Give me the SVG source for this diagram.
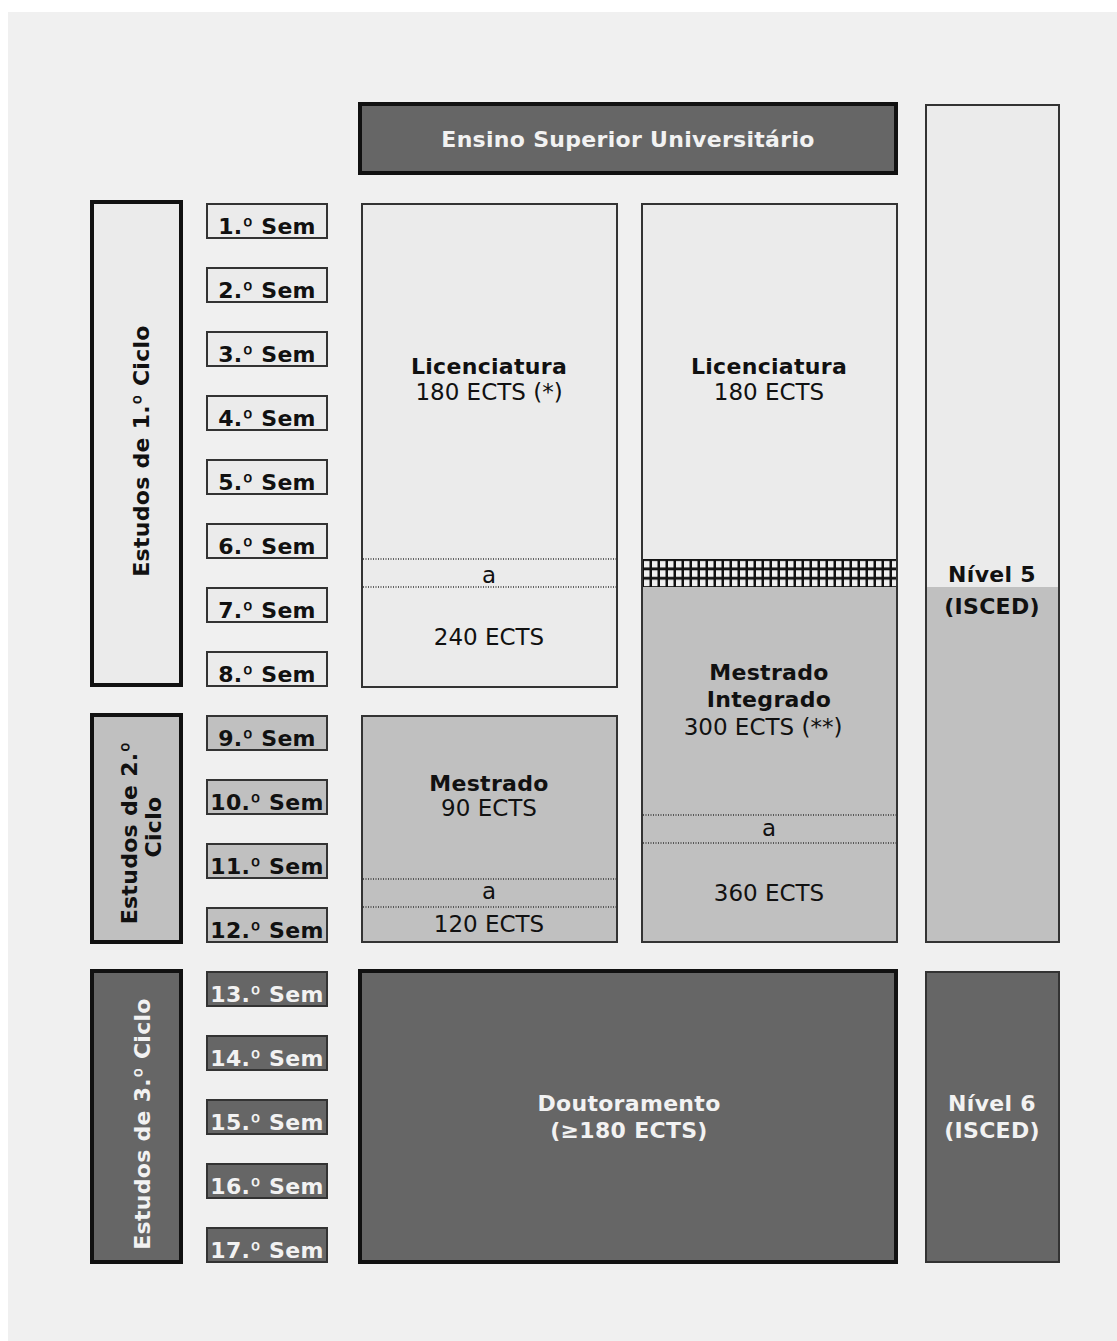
<svg xmlns="http://www.w3.org/2000/svg" width="1117" height="1341" viewBox="0 0 1117 1341">
  <style>
    .b { font-family: "DejaVu Sans", Verdana, sans-serif; font-weight: bold; font-size: 22px; letter-spacing: 0.3px; text-anchor: middle; fill: #111; }
    .r { font-family: "DejaVu Sans", Verdana, sans-serif; font-size: 23px; text-anchor: middle; fill: #111; }
    .o { font-family: Inter, "DejaVu Sans", sans-serif; font-weight: bold; }
    .w { fill: #f2f2f2; }
    .light { fill: #ebebeb; }
    .mid { fill: #c0c0c0; }
    .dark { fill: #666666; }
    .thick { stroke: #111; stroke-width: 4; }
    .thin { stroke: #333; stroke-width: 2; }
    .dot { stroke: #333; stroke-width: 1.5; stroke-dasharray: 1 1.5; }
  </style>
  <defs>
    <pattern id="grid" x="642" y="559" width="8" height="9.33" patternUnits="userSpaceOnUse">
      <rect width="8" height="9.33" fill="#111"/>
      <rect x="2" y="2" width="5.5" height="6.5" fill="#f0f0f0"/>
    </pattern>
  </defs>

  <rect x="0" y="0" width="1117" height="1341" fill="#ffffff"/>
  <rect x="8" y="12" width="1109" height="1329" fill="#f0f0f0"/>

  <g id="header">
    <rect x="360" y="104" width="536" height="69" class="dark thick"/>
    <text x="628" y="147" class="b w">Ensino Superior Universitário</text>
  </g>

  <g id="ciclo1">
    <rect x="92" y="202" width="89" height="483" class="light thick"/>
    <text class="b" transform="translate(149,451) rotate(-90)">Estudos de 1.<tspan class="o">º</tspan> Ciclo</text>
  </g>
  <g id="ciclo2">
    <rect x="92" y="715" width="89" height="227" class="mid thick"/>
    <text class="b" transform="translate(137,833) rotate(-90)">Estudos de 2.<tspan class="o">º</tspan></text>
    <text class="b" transform="translate(161,827) rotate(-90)">Ciclo</text>
  </g>
  <g id="ciclo3">
    <rect x="92" y="971" width="89" height="291" class="dark thick"/>
    <text class="b w" transform="translate(150,1124) rotate(-90)">Estudos de 3.<tspan class="o">º</tspan> Ciclo</text>
  </g>

  <g id="sem1"><rect x="207" y="204" width="120" height="34" class="light thin"/><text x="267" y="234" class="b">1.<tspan class="o">º</tspan> Sem</text></g>
  <g id="sem2"><rect x="207" y="268" width="120" height="34" class="light thin"/><text x="267" y="298" class="b">2.<tspan class="o">º</tspan> Sem</text></g>
  <g id="sem3"><rect x="207" y="332" width="120" height="34" class="light thin"/><text x="267" y="362" class="b">3.<tspan class="o">º</tspan> Sem</text></g>
  <g id="sem4"><rect x="207" y="396" width="120" height="34" class="light thin"/><text x="267" y="426" class="b">4.<tspan class="o">º</tspan> Sem</text></g>
  <g id="sem5"><rect x="207" y="460" width="120" height="34" class="light thin"/><text x="267" y="490" class="b">5.<tspan class="o">º</tspan> Sem</text></g>
  <g id="sem6"><rect x="207" y="524" width="120" height="34" class="light thin"/><text x="267" y="554" class="b">6.<tspan class="o">º</tspan> Sem</text></g>
  <g id="sem7"><rect x="207" y="588" width="120" height="34" class="light thin"/><text x="267" y="618" class="b">7.<tspan class="o">º</tspan> Sem</text></g>
  <g id="sem8"><rect x="207" y="652" width="120" height="34" class="light thin"/><text x="267" y="682" class="b">8.<tspan class="o">º</tspan> Sem</text></g>
  <g id="sem9"><rect x="207" y="716" width="120" height="34" class="mid thin"/><text x="267" y="746" class="b">9.<tspan class="o">º</tspan> Sem</text></g>
  <g id="sem10"><rect x="207" y="780" width="120" height="34" class="mid thin"/><text x="267" y="810" class="b">10.<tspan class="o">º</tspan> Sem</text></g>
  <g id="sem11"><rect x="207" y="844" width="120" height="34" class="mid thin"/><text x="267" y="874" class="b">11.<tspan class="o">º</tspan> Sem</text></g>
  <g id="sem12"><rect x="207" y="908" width="120" height="34" class="mid thin"/><text x="267" y="938" class="b">12.<tspan class="o">º</tspan> Sem</text></g>
  <g id="sem13"><rect x="207" y="972" width="120" height="34" class="dark thin"/><text x="267" y="1002" class="b w">13.<tspan class="o">º</tspan> Sem</text></g>
  <g id="sem14"><rect x="207" y="1036" width="120" height="34" class="dark thin"/><text x="267" y="1066" class="b w">14.<tspan class="o">º</tspan> Sem</text></g>
  <g id="sem15"><rect x="207" y="1100" width="120" height="34" class="dark thin"/><text x="267" y="1130" class="b w">15.<tspan class="o">º</tspan> Sem</text></g>
  <g id="sem16"><rect x="207" y="1164" width="120" height="34" class="dark thin"/><text x="267" y="1194" class="b w">16.<tspan class="o">º</tspan> Sem</text></g>
  <g id="sem17"><rect x="207" y="1228" width="120" height="34" class="dark thin"/><text x="267" y="1258" class="b w">17.<tspan class="o">º</tspan> Sem</text></g>

  <g id="licenciatura1">
    <rect x="362" y="204" width="255" height="483" class="light thin"/>
    <line x1="363" y1="559" x2="616" y2="559" class="dot"/>
    <line x1="363" y1="587" x2="616" y2="587" class="dot"/>
    <text x="489" y="374" class="b">Licenciatura</text>
    <text x="489" y="400" class="r">180 ECTS (*)</text>
    <text x="489" y="583" class="r">a</text>
    <text x="489" y="645" class="r">240 ECTS</text>
  </g>

  <g id="mestrado">
    <rect x="362" y="716" width="255" height="226" class="mid thin"/>
    <line x1="363" y1="879" x2="616" y2="879" class="dot"/>
    <line x1="363" y1="907" x2="616" y2="907" class="dot"/>
    <text x="489" y="791" class="b">Mestrado</text>
    <text x="489" y="816" class="r">90 ECTS</text>
    <text x="489" y="899" class="r">a</text>
    <text x="489" y="932" class="r">120 ECTS</text>
  </g>

  <g id="licenciatura2-mestrado-integrado">
    <rect x="642" y="204" width="255" height="355" class="light"/>
    <rect x="642" y="559" width="255" height="28" fill="url(#grid)"/>
    <rect x="642" y="587" width="255" height="355" class="mid"/>
    <rect x="642" y="204" width="255" height="738" fill="none" class="thin"/>
    <line x1="643" y1="815" x2="896" y2="815" class="dot"/>
    <line x1="643" y1="843" x2="896" y2="843" class="dot"/>
    <text x="769" y="374" class="b">Licenciatura</text>
    <text x="769" y="400" class="r">180 ECTS</text>
    <text x="769" y="680" class="b">Mestrado</text>
    <text x="769" y="707" class="b">Integrado</text>
    <text x="763" y="735" class="r">300 ECTS (**)</text>
    <text x="769" y="836" class="r">a</text>
    <text x="769" y="901" class="r">360 ECTS</text>
  </g>

  <g id="doutoramento">
    <rect x="360" y="971" width="536" height="291" class="dark thick"/>
    <text x="629" y="1111" class="b w">Doutoramento</text>
    <text x="629" y="1138" class="b w">(≥180 ECTS)</text>
  </g>

  <g id="nivel5">
    <rect x="926" y="105" width="133" height="482" class="light"/>
    <rect x="926" y="587" width="133" height="355" class="mid"/>
    <rect x="926" y="105" width="133" height="837" fill="none" class="thin"/>
    <text x="992" y="582" class="b">Nível 5</text>
    <text x="992" y="614" class="b">(ISCED)</text>
  </g>

  <g id="nivel6">
    <rect x="926" y="972" width="133" height="290" class="dark thin"/>
    <text x="992" y="1111" class="b w">Nível 6</text>
    <text x="992" y="1138" class="b w">(ISCED)</text>
  </g>
</svg>
